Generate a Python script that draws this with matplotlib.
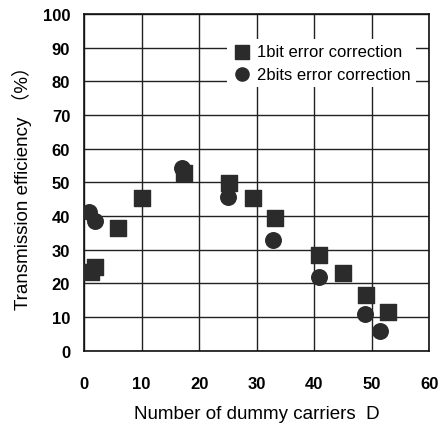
import matplotlib
matplotlib.use("Agg")
import matplotlib.pyplot as plt

sq_x = [1.2, 1.9, 5.9, 10.1, 17.3, 25.2, 29.3, 33.2, 40.9, 45.0, 49.0, 52.9]
sq_y = [23.4, 25.0, 36.5, 45.4, 52.8, 49.8, 45.4, 39.5, 28.5, 23.0, 16.6, 11.5]
ci_x = [0.9, 1.9, 17.1, 25.0, 32.9, 40.8, 48.9, 51.5]
ci_y = [41.2, 38.6, 54.2, 45.8, 33.0, 22.0, 11.0, 6.0]

xticks = [0, 10, 20, 30, 40, 50, 60]
yticks = [0, 10, 20, 30, 40, 50, 60, 70, 80, 90, 100]

plt.rcParams['font.family'] = ['Liberation Sans', 'Noto Sans CJK JP', 'DejaVu Sans']

fig = plt.figure(figsize=(4.47, 4.27), dpi=100)
ax = fig.add_axes([0.188, 0.176, 0.772, 0.789])

ax.set_xlim(0, 60)
ax.set_ylim(0, 100)
ax.set_xticks(xticks)
ax.set_yticks(yticks)
ax.grid(True, color='#222222', linewidth=1.0)
ax.set_axisbelow(True)
for s in ax.spines.values():
    s.set_linewidth(1.2)
    s.set_color('#111111')
ax.tick_params(length=0, labelsize=12, pad=10)
ax.tick_params(axis='x', pad=18)
for lab in ax.get_xticklabels() + ax.get_yticklabels():
    lab.set_fontweight('bold')

ax.scatter(sq_x, sq_y, marker='s', s=125, color='#2b2b2b', zorder=3,
           label='1bit error correction')
ax.scatter(ci_x, ci_y, marker='o', s=125, color='#2b2b2b', zorder=3,
           label='2bits error correction')

leg = ax.legend(loc='upper right', bbox_to_anchor=(0.985, 0.95), frameon=True,
                fontsize=12, handletextpad=0.3, borderpad=0.3,
                labelspacing=0.45, handlelength=1.2, markerscale=0.85)
leg.get_frame().set_edgecolor('none')
leg.get_frame().set_facecolor('white')
leg.get_frame().set_alpha(1.0)

ax.set_xlabel('Number of dummy carriers  D', fontsize=13.5, labelpad=10)
ax.set_ylabel('Transmission efficiency （%）', fontsize=13.5, labelpad=8)

fig.savefig('out.png', dpi=100)
